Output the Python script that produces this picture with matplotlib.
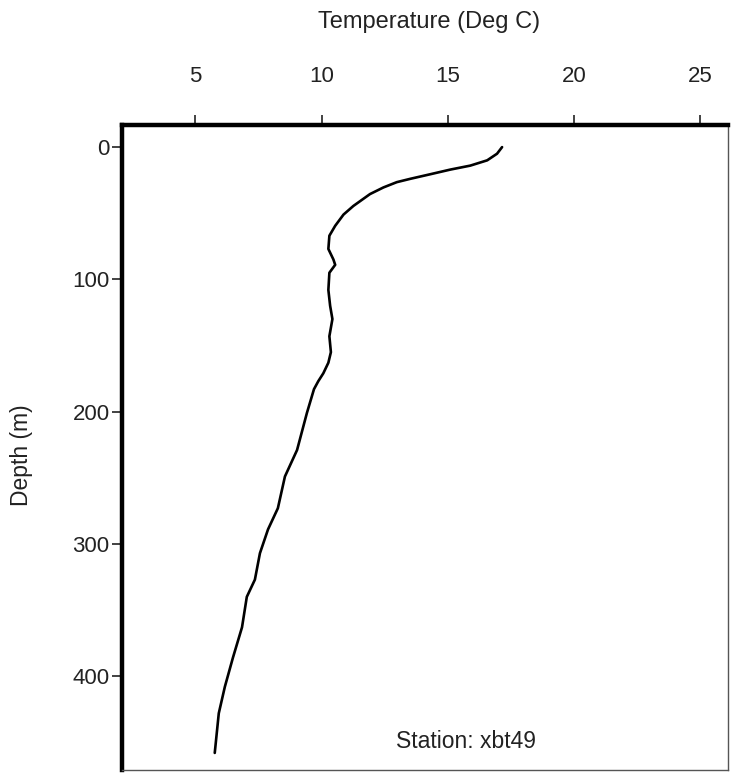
import matplotlib.pyplot as plt

# XBT temperature profile
temp = [17.15, 16.95, 16.56, 15.89, 15.10, 14.31, 13.51, 12.98, 12.45, 11.92,
        11.26, 10.87, 10.54, 10.31, 10.27, 10.47, 10.54, 10.31, 10.27, 10.34,
        10.43, 10.31, 10.37, 10.27, 10.07, 9.87, 9.70, 9.42, 9.03, 8.55,
        8.27, 7.88, 7.56, 7.36, 7.04, 6.85, 6.49, 6.17, 5.93, 5.77]
depth = [0, 5, 10, 14, 17, 20.5, 24, 26.5, 30.5, 35.5,
         44.5, 51, 59.5, 67, 77, 85, 89, 95, 108, 120,
         130, 143, 155, 163, 171, 177, 183, 201, 229, 249,
         273, 289, 307, 327, 340, 363, 386, 408, 428, 458]

x_ticks = [5, 10, 15, 20, 25]
y_ticks = [0, 100, 200, 300, 400]

plt.rcParams['font.family'] = ['Liberation Sans', 'DejaVu Sans']

fig = plt.figure(figsize=(7.31, 7.74), dpi=100)
ax = fig.add_axes([0.167, 0.005, 0.829, 0.834])

ax.plot(temp, depth, color='black', lw=1.9, solid_joinstyle='round',
        solid_capstyle='round')

ax.set_xlim(2.1, 26.1)
ax.set_ylim(471, -17)
ax.set_xticks(x_ticks)
ax.set_yticks(y_ticks)

ax.xaxis.tick_top()
ax.tick_params(axis='x', direction='out', length=7, width=1.2, pad=20,
               labelsize=16, colors='#222222')
ax.tick_params(axis='y', direction='out', length=7, width=1.2, pad=2,
               labelsize=16, colors='#222222')

for side in ['left', 'top']:
    ax.spines[side].set_linewidth(3.2)
    ax.spines[side].set_color('black')
for side in ['right', 'bottom']:
    ax.spines[side].set_linewidth(1.0)
    ax.spines[side].set_color('#555555')

fig.text(0.587, 0.971, 'Temperature (Deg C)', ha='center', va='center',
         fontsize=17, color='#222222')
fig.text(0.030, 0.412, 'Depth (m)', ha='center', va='center', rotation=90,
         fontsize=16.5, color='#222222')
ax.text(0.568, 0.045, 'Station: xbt49', transform=ax.transAxes,
        ha='center', va='center', fontsize=16.5, color='#222222')

fig.savefig('out.png', dpi=100)
